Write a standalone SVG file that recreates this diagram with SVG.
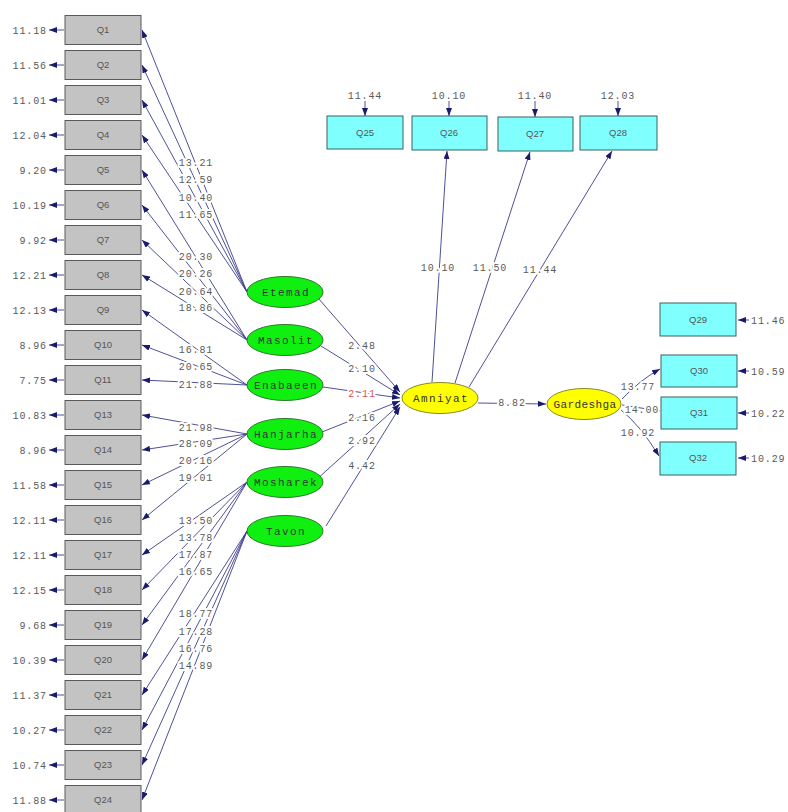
<svg xmlns="http://www.w3.org/2000/svg" width="788" height="812" viewBox="0 0 788 812">
<defs>
<marker id="ah" markerUnits="userSpaceOnUse" markerWidth="8" markerHeight="6" refX="8" refY="3" orient="auto"><path d="M0,0 L8,3 L0,6 z" fill="#1a1a6e"/></marker>
<style>
.bg{fill:#ffffff}
.obs{fill:#c3c3c3;stroke:#5a5a5a;stroke-width:1}
.cy{fill:#80ffff;stroke:#3d6060;stroke-width:1}
.lat{fill:#10f010;stroke:#2a7a2a;stroke-width:1}
.yel{fill:#ffff00;stroke:#8a8a20;stroke-width:1}
.bt{font-family:"Liberation Sans",Arial,sans-serif;font-size:9.5px;fill:#555;text-anchor:middle}
.lt{font-family:"Liberation Mono","Courier New",monospace;font-size:11px;fill:#333;text-anchor:middle;letter-spacing:1.4px}
.num{font-family:"Liberation Mono","Courier New",monospace;font-size:10px;fill:#5a5a5a;letter-spacing:0.9px;stroke:#fff;stroke-width:4px;paint-order:stroke;stroke-linejoin:round}
.c{text-anchor:middle}
.e{text-anchor:end}
.red{fill:#e05050}
.ln{stroke:#3c3c8c;stroke-width:0.9;fill:none}
.ar{marker-end:url(#ah)}
</style>
</defs>
<rect class="bg" x="0" y="0" width="788" height="812"/>

<g id="connectors">
<g class="ln ar">
<line x1="64" y1="30" x2="49" y2="30"/><line x1="64" y1="65" x2="49" y2="65"/><line x1="64" y1="100" x2="49" y2="100"/><line x1="64" y1="135" x2="49" y2="135"/>
<line x1="64" y1="170" x2="49" y2="170"/><line x1="64" y1="205" x2="49" y2="205"/><line x1="64" y1="240" x2="49" y2="240"/><line x1="64" y1="275" x2="49" y2="275"/>
<line x1="64" y1="310" x2="49" y2="310"/><line x1="64" y1="345" x2="49" y2="345"/><line x1="64" y1="380" x2="49" y2="380"/><line x1="64" y1="415" x2="49" y2="415"/>
<line x1="64" y1="450" x2="49" y2="450"/><line x1="64" y1="485" x2="49" y2="485"/><line x1="64" y1="520" x2="49" y2="520"/><line x1="64" y1="555" x2="49" y2="555"/>
<line x1="64" y1="590" x2="49" y2="590"/><line x1="64" y1="625" x2="49" y2="625"/><line x1="64" y1="660" x2="49" y2="660"/><line x1="64" y1="695" x2="49" y2="695"/>
<line x1="64" y1="730" x2="49" y2="730"/><line x1="64" y1="765" x2="49" y2="765"/><line x1="64" y1="800" x2="49" y2="800"/>
</g>
<g class="ln ar">
<line x1="247" y1="292" x2="142" y2="30"/><line x1="247" y1="292" x2="142" y2="65"/><line x1="247" y1="292" x2="142" y2="100"/><line x1="247" y1="292" x2="142" y2="135"/>
<line x1="247" y1="340" x2="142" y2="170"/><line x1="247" y1="340" x2="142" y2="205"/><line x1="247" y1="340" x2="142" y2="240"/><line x1="247" y1="340" x2="142" y2="275"/>
<line x1="247" y1="385" x2="142" y2="310"/><line x1="247" y1="385" x2="142" y2="345"/><line x1="247" y1="385" x2="142" y2="380"/>
<line x1="247" y1="434" x2="142" y2="415"/><line x1="247" y1="434" x2="142" y2="450"/><line x1="247" y1="434" x2="142" y2="485"/><line x1="247" y1="434" x2="142" y2="520"/>
<line x1="247" y1="482" x2="142" y2="555"/><line x1="247" y1="482" x2="142" y2="590"/><line x1="247" y1="482" x2="142" y2="625"/><line x1="247" y1="482" x2="142" y2="660"/>
<line x1="247" y1="531" x2="142" y2="695"/><line x1="247" y1="531" x2="142" y2="730"/><line x1="247" y1="531" x2="142" y2="765"/><line x1="247" y1="531" x2="142" y2="800"/>
</g>
<g class="ln ar">
<line x1="318" y1="298" x2="400" y2="392"/>
<line x1="321" y1="346" x2="400" y2="395"/>
<line x1="323" y1="387" x2="400" y2="398"/>
<line x1="322" y1="432" x2="400" y2="401"/>
<line x1="316" y1="480" x2="400" y2="404"/>
<line x1="326" y1="526" x2="400" y2="407"/>
</g>
<g class="ln ar">
<line x1="432" y1="382" x2="447" y2="151"/>
<line x1="455" y1="383" x2="530" y2="152"/>
<line x1="469" y1="387" x2="612" y2="151"/>
<line x1="478" y1="403" x2="546" y2="404"/>
</g>
<g class="ln ar">
<line x1="365" y1="101" x2="365" y2="116"/><line x1="449" y1="101" x2="449" y2="116"/><line x1="535" y1="101" x2="535" y2="117"/><line x1="618" y1="101" x2="618" y2="116"/>
</g>
<g class="ln ar">
<path d="M622,399 Q640,380 660,369"/>
<line x1="622" y1="405" x2="660" y2="411"/>
<path d="M621,410 Q640,425 659,456"/>
</g>
<g class="ln ar">
<line x1="749" y1="320" x2="738" y2="320"/><line x1="749" y1="371" x2="738" y2="371"/><line x1="749" y1="413" x2="738" y2="413"/><line x1="749" y1="458" x2="738" y2="458"/>
</g>
</g>

<g id="labels">
<g class="num e">
<text x="47" y="33.5">11.18</text><text x="47" y="68.5">11.56</text><text x="47" y="103.5">11.01</text><text x="47" y="138.5">12.04</text>
<text x="47" y="173.5">9.20</text><text x="47" y="208.5">10.19</text><text x="47" y="243.5">9.92</text><text x="47" y="278.5">12.21</text>
<text x="47" y="313.5">12.13</text><text x="47" y="348.5">8.96</text><text x="47" y="383.5">7.75</text><text x="47" y="418.5">10.83</text>
<text x="47" y="453.5">8.96</text><text x="47" y="488.5">11.58</text><text x="47" y="523.5">12.11</text><text x="47" y="558.5">12.11</text>
<text x="47" y="593.5">12.15</text><text x="47" y="628.5">9.68</text><text x="47" y="663.5">10.39</text><text x="47" y="698.5">11.37</text>
<text x="47" y="733.5">10.27</text><text x="47" y="768.5">10.74</text><text x="47" y="803.5">11.88</text>
</g>
<g class="num c">
<text x="196" y="166">13.21</text><text x="196" y="183">12.59</text><text x="196" y="200.5">10.40</text><text x="196" y="218">11.65</text>
<text x="196" y="260">20.30</text><text x="196" y="277">20.26</text><text x="196" y="294.5">20.64</text><text x="196" y="311">18.86</text>
<text x="196" y="353">16.81</text><text x="196" y="370">20.65</text><text x="196" y="388">21.88</text>
<text x="196" y="431">21.98</text><text x="196" y="447">28.09</text><text x="196" y="464">20.16</text><text x="196" y="481">19.01</text>
<text x="196" y="524">13.50</text><text x="196" y="541">13.78</text><text x="196" y="558">17.87</text><text x="196" y="575">16.65</text>
<text x="196" y="617">18.77</text><text x="196" y="635">17.28</text><text x="196" y="652">16.76</text><text x="196" y="669">14.89</text>
</g>
<g class="num c">
<text x="362" y="349">2.48</text>
<text x="362" y="372">2.10</text>
<text class="red" x="362" y="397">2.11</text>
<text x="362" y="421">2.16</text>
<text x="362" y="444">2.92</text>
<text x="362" y="469">4.42</text>
<text x="438" y="271">10.10</text>
<text x="490" y="271">11.50</text>
<text x="540" y="273">11.44</text>
<text x="512" y="406">8.82</text>
<text x="638" y="390">13.77</text>
<text x="642" y="413">14.00</text>
<text x="638" y="436">10.92</text>
<text x="365" y="99">11.44</text>
<text x="449" y="99">10.10</text>
<text x="535" y="99">11.40</text>
<text x="618" y="99">12.03</text>
</g>
<g class="num">
<text x="751" y="323.5">11.46</text><text x="751" y="374.5">10.59</text><text x="751" y="416.5">10.22</text><text x="751" y="461.5">10.29</text>
</g>
</g>

<g id="n-Q1"><rect class="obs" x="65" y="15.5" width="76" height="29"/><text class="bt" x="103" y="33">Q1</text></g>
<g id="n-Q2"><rect class="obs" x="65" y="50.5" width="76" height="29"/><text class="bt" x="103" y="68">Q2</text></g>
<g id="n-Q3"><rect class="obs" x="65" y="85.5" width="76" height="29"/><text class="bt" x="103" y="103">Q3</text></g>
<g id="n-Q4"><rect class="obs" x="65" y="120.5" width="76" height="29"/><text class="bt" x="103" y="138">Q4</text></g>
<g id="n-Q5"><rect class="obs" x="65" y="155.5" width="76" height="29"/><text class="bt" x="103" y="173">Q5</text></g>
<g id="n-Q6"><rect class="obs" x="65" y="190.5" width="76" height="29"/><text class="bt" x="103" y="208">Q6</text></g>
<g id="n-Q7"><rect class="obs" x="65" y="225.5" width="76" height="29"/><text class="bt" x="103" y="243">Q7</text></g>
<g id="n-Q8"><rect class="obs" x="65" y="260.5" width="76" height="29"/><text class="bt" x="103" y="278">Q8</text></g>
<g id="n-Q9"><rect class="obs" x="65" y="295.5" width="76" height="29"/><text class="bt" x="103" y="313">Q9</text></g>
<g id="n-Q10"><rect class="obs" x="65" y="330.5" width="76" height="29"/><text class="bt" x="103" y="348">Q10</text></g>
<g id="n-Q11"><rect class="obs" x="65" y="365.5" width="76" height="29"/><text class="bt" x="103" y="383">Q11</text></g>
<g id="n-Q13"><rect class="obs" x="65" y="400.5" width="76" height="29"/><text class="bt" x="103" y="418">Q13</text></g>
<g id="n-Q14"><rect class="obs" x="65" y="435.5" width="76" height="29"/><text class="bt" x="103" y="453">Q14</text></g>
<g id="n-Q15"><rect class="obs" x="65" y="470.5" width="76" height="29"/><text class="bt" x="103" y="488">Q15</text></g>
<g id="n-Q16"><rect class="obs" x="65" y="505.5" width="76" height="29"/><text class="bt" x="103" y="523">Q16</text></g>
<g id="n-Q17"><rect class="obs" x="65" y="540.5" width="76" height="29"/><text class="bt" x="103" y="558">Q17</text></g>
<g id="n-Q18"><rect class="obs" x="65" y="575.5" width="76" height="29"/><text class="bt" x="103" y="593">Q18</text></g>
<g id="n-Q19"><rect class="obs" x="65" y="610.5" width="76" height="29"/><text class="bt" x="103" y="628">Q19</text></g>
<g id="n-Q20"><rect class="obs" x="65" y="645.5" width="76" height="29"/><text class="bt" x="103" y="663">Q20</text></g>
<g id="n-Q21"><rect class="obs" x="65" y="680.5" width="76" height="29"/><text class="bt" x="103" y="698">Q21</text></g>
<g id="n-Q22"><rect class="obs" x="65" y="715.5" width="76" height="29"/><text class="bt" x="103" y="733">Q22</text></g>
<g id="n-Q23"><rect class="obs" x="65" y="750.5" width="76" height="29"/><text class="bt" x="103" y="768">Q23</text></g>
<g id="n-Q24"><rect class="obs" x="65" y="785.5" width="76" height="29"/><text class="bt" x="103" y="803">Q24</text></g>

<g id="n-Q25"><rect class="cy" x="327" y="116" width="76" height="33"/><text class="bt" x="365" y="136">Q25</text></g>
<g id="n-Q26"><rect class="cy" x="412" y="116" width="75" height="34"/><text class="bt" x="449" y="136">Q26</text></g>
<g id="n-Q27"><rect class="cy" x="498" y="117" width="75" height="34"/><text class="bt" x="535" y="137">Q27</text></g>
<g id="n-Q28"><rect class="cy" x="580" y="116" width="77" height="34"/><text class="bt" x="618" y="136">Q28</text></g>
<g id="n-Q29"><rect class="cy" x="660" y="303" width="76" height="33"/><text class="bt" x="698" y="323">Q29</text></g>
<g id="n-Q30"><rect class="cy" x="661" y="355" width="76" height="32"/><text class="bt" x="699" y="374">Q30</text></g>
<g id="n-Q31"><rect class="cy" x="661" y="397" width="76" height="32"/><text class="bt" x="699" y="416">Q31</text></g>
<g id="n-Q32"><rect class="cy" x="660" y="442" width="76" height="33"/><text class="bt" x="698" y="461">Q32</text></g>

<g id="n-Etemad"><ellipse class="lat" cx="285" cy="292" rx="38" ry="15.5"/><text class="lt" x="286" y="296">Etemad</text></g>
<g id="n-Masolit"><ellipse class="lat" cx="285" cy="340" rx="38" ry="15.5"/><text class="lt" x="286" y="344">Masolit</text></g>
<g id="n-Enabaeen"><ellipse class="lat" cx="285" cy="385" rx="38" ry="15.5"/><text class="lt" x="286" y="389">Enabaeen</text></g>
<g id="n-Hanjarha"><ellipse class="lat" cx="285" cy="434" rx="38" ry="15.5"/><text class="lt" x="286" y="438">Hanjarha</text></g>
<g id="n-Mosharek"><ellipse class="lat" cx="285" cy="482" rx="38" ry="15.5"/><text class="lt" x="286" y="486">Mosharek</text></g>
<g id="n-Tavon"><ellipse class="lat" cx="285" cy="531" rx="38" ry="15.5"/><text class="lt" x="286" y="535">Tavon</text></g>
<g id="n-Amniyat"><ellipse class="yel" cx="440" cy="398" rx="38" ry="15.5"/><text class="lt" x="441" y="402">Amniyat</text></g>
<g id="n-Gardeshga"><ellipse class="yel" cx="584" cy="404" rx="37" ry="15.5"/><text class="lt" x="585" y="408" style="letter-spacing:0.4px">Gardeshga</text></g>
</svg>
